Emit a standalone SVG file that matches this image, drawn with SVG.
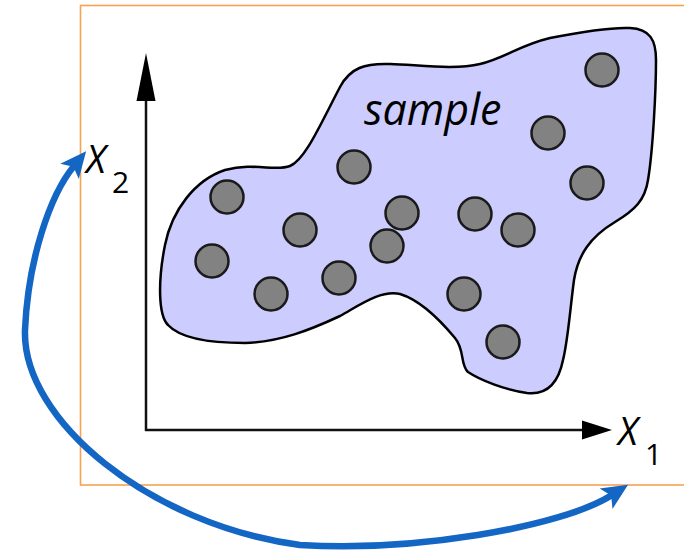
<svg xmlns="http://www.w3.org/2000/svg" width="684" height="554" viewBox="0 0 684 554">
  <style>
    .frame { fill: none; stroke: #f7a24f; stroke-width: 1.6; }
    .blob { fill: #ccccff; stroke: #000; stroke-width: 2.5; stroke-linejoin: round; }
    .pt { fill: #828282; stroke: #1a1a1a; stroke-width: 2.5; }
    .axis { fill: none; stroke: #111; stroke-width: 2.5; }
    .axhead { fill: #000; }
    .lbl { font-family: "Open Sans", "Liberation Sans", sans-serif; fill: #000; }
    .it { font-style: italic; }
    .conn { fill: none; stroke: #1466c4; stroke-width: 6.5; stroke-linecap: butt; }
  </style>
  <defs>
    <marker id="barb" markerUnits="userSpaceOnUse" markerWidth="30" markerHeight="28" viewBox="0 -14 30 28" refX="7" refY="0" orient="auto-start-reverse">
      <path d="M0,-12 L26,0 L0,12 L6,0 Z" fill="#1466c4"/>
    </marker>
  </defs>
  <rect width="684" height="554" fill="#ffffff"/>

  <rect id="frame" class="frame" x="80.5" y="5.5" width="620" height="479.5"/>

  <g id="axes">
    <line class="axis" x1="146" y1="431" x2="146" y2="98"/>
    <polygon class="axhead" points="146,53 136.5,101 155.5,101"/>
    <line class="axis" x1="145" y1="430" x2="585" y2="430"/>
    <polygon class="axhead" points="612,430 582,420.5 582,439.5"/>
  </g>

  <g id="label-x2">
    <text class="lbl it" x="86" y="173" font-size="38">X</text>
    <text class="lbl" x="112" y="193" font-size="30">2</text>
  </g>
  <g id="label-x1">
    <text class="lbl it" x="618" y="445" font-size="38">X</text>
    <text class="lbl" x="645" y="465" font-size="30">1</text>
  </g>

  <g id="sample">
    <path class="blob" d="M 340 87 C 350 68, 365 63, 390 64 C 420 65, 455 70, 480 64 C 505 58, 520 45, 550 38 C 580 32, 610 27, 630 28 C 650 29, 656 40, 656 60 C 656 90, 653 150, 648 180 C 645 200, 635 210, 615 222 C 590 237, 578 255, 574 280 C 570 310, 568 340, 563 360 C 558 385, 545 395, 527 393 C 505 390, 480 380, 468 372 C 460 365, 465 350, 455 338 C 440 320, 420 300, 400 294 C 380 290, 360 305, 340 316 C 310 330, 280 342, 245 343 C 210 343, 180 338, 168 325 C 158 315, 158 280, 165 245 C 172 210, 195 180, 225 170 C 255 162, 275 172, 290 166 C 305 160, 320 125, 340 87 Z"/>
    <text class="lbl it" x="364" y="125" font-size="43">sample</text>
  </g>

  <g id="points">
    <circle class="pt" cx="602" cy="70" r="16.5"/>
    <circle class="pt" cx="548" cy="133" r="16.5"/>
    <circle class="pt" cx="587" cy="183" r="16.5"/>
    <circle class="pt" cx="354" cy="167" r="16.5"/>
    <circle class="pt" cx="227" cy="197" r="16.5"/>
    <circle class="pt" cx="300" cy="230" r="16.5"/>
    <circle class="pt" cx="402" cy="213" r="16.5"/>
    <circle class="pt" cx="475" cy="214" r="16.5"/>
    <circle class="pt" cx="518" cy="230" r="16.5"/>
    <circle class="pt" cx="387" cy="246" r="16.5"/>
    <circle class="pt" cx="212" cy="261" r="16.5"/>
    <circle class="pt" cx="339" cy="278" r="16.5"/>
    <circle class="pt" cx="271" cy="294" r="16.5"/>
    <circle class="pt" cx="464" cy="294" r="16.5"/>
    <circle class="pt" cx="503" cy="342" r="16.5"/>
  </g>

  <g id="connectors">
    <path class="conn" marker-start="url(#barb)" marker-end="url(#barb)" d="M 74 166 C 50 195, 28 260, 25 330 C 22 420, 150 525, 300 545 C 410 552, 560 528, 612 495"/>
  </g>
</svg>
